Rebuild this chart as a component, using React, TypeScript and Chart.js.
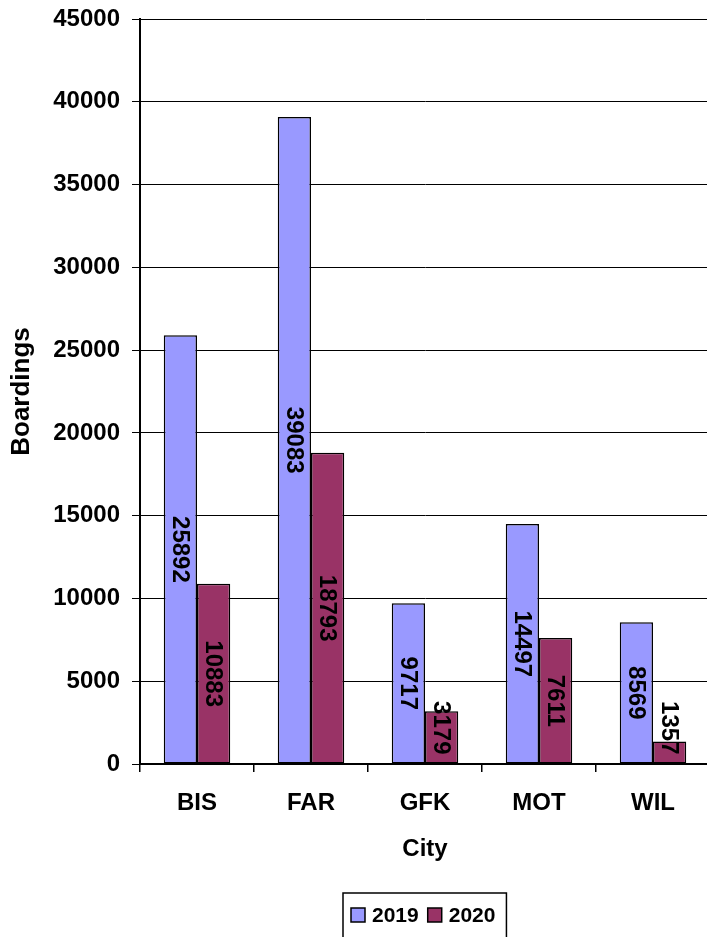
import React, { useEffect, useRef } from "react";
import { Chart, registerables } from "chart.js";

Chart.register(...registerables);

const categories = ["BIS", "FAR", "GFK", "MOT", "WIL"];
const seriesLabels = ["2019", "2020"];
const values2019 = [25892, 39083, 9717, 14497, 8569];
const values2020 = [10883, 18793, 3179, 7611, 1357];
const seriesColors = ["#9999FF", "#993366"];
const yTickMax = 45000;
const yTickStep = 5000;

const FONT = "'Liberation Sans', Arial, sans-serif";

const barLabelPlugin = {
  id: "barLabels",
  afterDatasetsDraw(chart: any) {
    const ctx = chart.ctx;
    ctx.save();
    ctx.font = `bold 24px ${FONT}`;
    ctx.fillStyle = "#000";
    ctx.textAlign = "center";
    ctx.textBaseline = "middle";
    chart.data.datasets.forEach((ds: any, di: number) => {
      const meta = chart.getDatasetMeta(di);
      meta.data.forEach((bar: any, i: number) => {
        const text = String(ds.data[i]);
        const len = ctx.measureText(text).width;
        let cy = (bar.y + bar.base) / 2;
        if (cy + len / 2 > bar.base - 9) cy = bar.base - 9 - len / 2;
        ctx.save();
        ctx.translate(bar.x, cy);
        ctx.rotate(Math.PI / 2);
        ctx.fillText(text, 0, 1);
        ctx.restore();
      });
    });
    ctx.restore();
  },
};

const boxLegendPlugin = {
  id: "boxLegend",
  afterDraw(chart: any) {
    const ctx = chart.ctx;
    const area = chart.chartArea;
    ctx.save();
    ctx.font = `bold 21px ${FONT}`;
    const sw = 14;
    const gapText = 7;
    const gapItem = 9;
    const padL = 8;
    const padR = 11;
    const items = chart.data.datasets.map((ds: any) => ({
      label: ds.label,
      color: ds.backgroundColor,
      w: ctx.measureText(ds.label).width,
    }));
    let total = padL + padR;
    items.forEach((it: any, i: number) => {
      total += sw + gapText + it.w + (i > 0 ? gapItem : 0);
    });
    const cx = (area.left + area.right) / 2;
    const left = Math.round(cx - total / 2);
    const top = 893;
    const cyy = 915;
    ctx.strokeStyle = "#000";
    ctx.lineWidth = 1.5;
    ctx.fillStyle = "#fff";
    ctx.fillRect(left, top, total, 50);
    ctx.strokeRect(left, top, total, 50);
    let x = left + padL;
    ctx.textAlign = "left";
    ctx.textBaseline = "middle";
    items.forEach((it: any, i: number) => {
      if (i > 0) x += gapItem;
      ctx.fillStyle = it.color;
      ctx.fillRect(x, cyy - 7, sw, sw);
      ctx.lineWidth = 1.5;
      ctx.strokeStyle = "#000";
      ctx.strokeRect(x, cyy - 7, sw, sw);
      x += sw + gapText;
      ctx.fillStyle = "#000";
      ctx.fillText(it.label, x, cyy + 1);
      x += it.w;
    });
    ctx.restore();
  },
};

export default function App() {
  const ref = useRef<HTMLCanvasElement>(null);
  useEffect(() => {
    if (!ref.current) return;
    const chart = new Chart(ref.current, {
      type: "bar",
      data: {
        labels: categories,
        datasets: [
          {
            label: seriesLabels[0],
            data: values2019,
            backgroundColor: seriesColors[0],
            borderColor: "#000",
            borderWidth: 1.5,
            borderSkipped: false,
          },
          {
            label: seriesLabels[1],
            data: values2020,
            backgroundColor: seriesColors[1],
            borderColor: "#000",
            borderWidth: 1.5,
            borderSkipped: false,
          },
        ],
      },
      options: {
        responsive: false,
        animation: false,
        devicePixelRatio: 1,
        layout: { padding: { top: 19, right: 0, bottom: 67, left: 0 } },
        datasets: { bar: { categoryPercentage: 0.583, barPercentage: 1.0 } },
        plugins: { legend: { display: false }, tooltip: { enabled: false } },
        scales: {
          x: {
            grid: {
              drawOnChartArea: false,
              drawTicks: true,
              tickLength: 8,
              color: "#000",
              lineWidth: 1.5,
            },
            border: { color: "#000", width: 2 },
            ticks: {
              color: "#000",
              font: { family: FONT, size: 24, weight: "bold" },
              padding: 17,
            },
            title: {
              display: true,
              text: "City",
              color: "#000",
              font: { family: FONT, size: 24, weight: "bold" },
              padding: { top: 0, bottom: 6 },
            },
            afterFit: (s: any) => {
              s.height = 106;
              s.paddingLeft = 0;
              s.paddingRight = 0;
            },
          },
          y: {
            min: 0,
            max: yTickMax,
            grid: { color: "#000", lineWidth: 1, tickLength: 8 },
            border: { color: "#000", width: 2 },
            ticks: {
              stepSize: yTickStep,
              color: "#000",
              font: { family: FONT, size: 24, weight: "bold" },
              padding: 12,
              callback: (v: any) => String(v),
            },
            title: {
              display: true,
              text: "Boardings",
              color: "#000",
              font: { family: FONT, size: 26, weight: "bold" },
              padding: { top: 6, bottom: 0 },
            },
            afterFit: (s: any) => {
              s.width = 140;
              s.paddingTop = 0;
              s.paddingBottom = 0;
            },
          },
        },
      },
      plugins: [barLabelPlugin, boxLegendPlugin],
    });
    return () => chart.destroy();
  }, []);
  return (
    <div
      style={{
        position: "absolute",
        left: 0,
        top: 0,
        width: 707,
        height: 937,
        overflow: "hidden",
        background: "#fff",
      }}
    >
      <canvas ref={ref} width={710} height={937} style={{ display: "block" }} />
    </div>
  );
}
